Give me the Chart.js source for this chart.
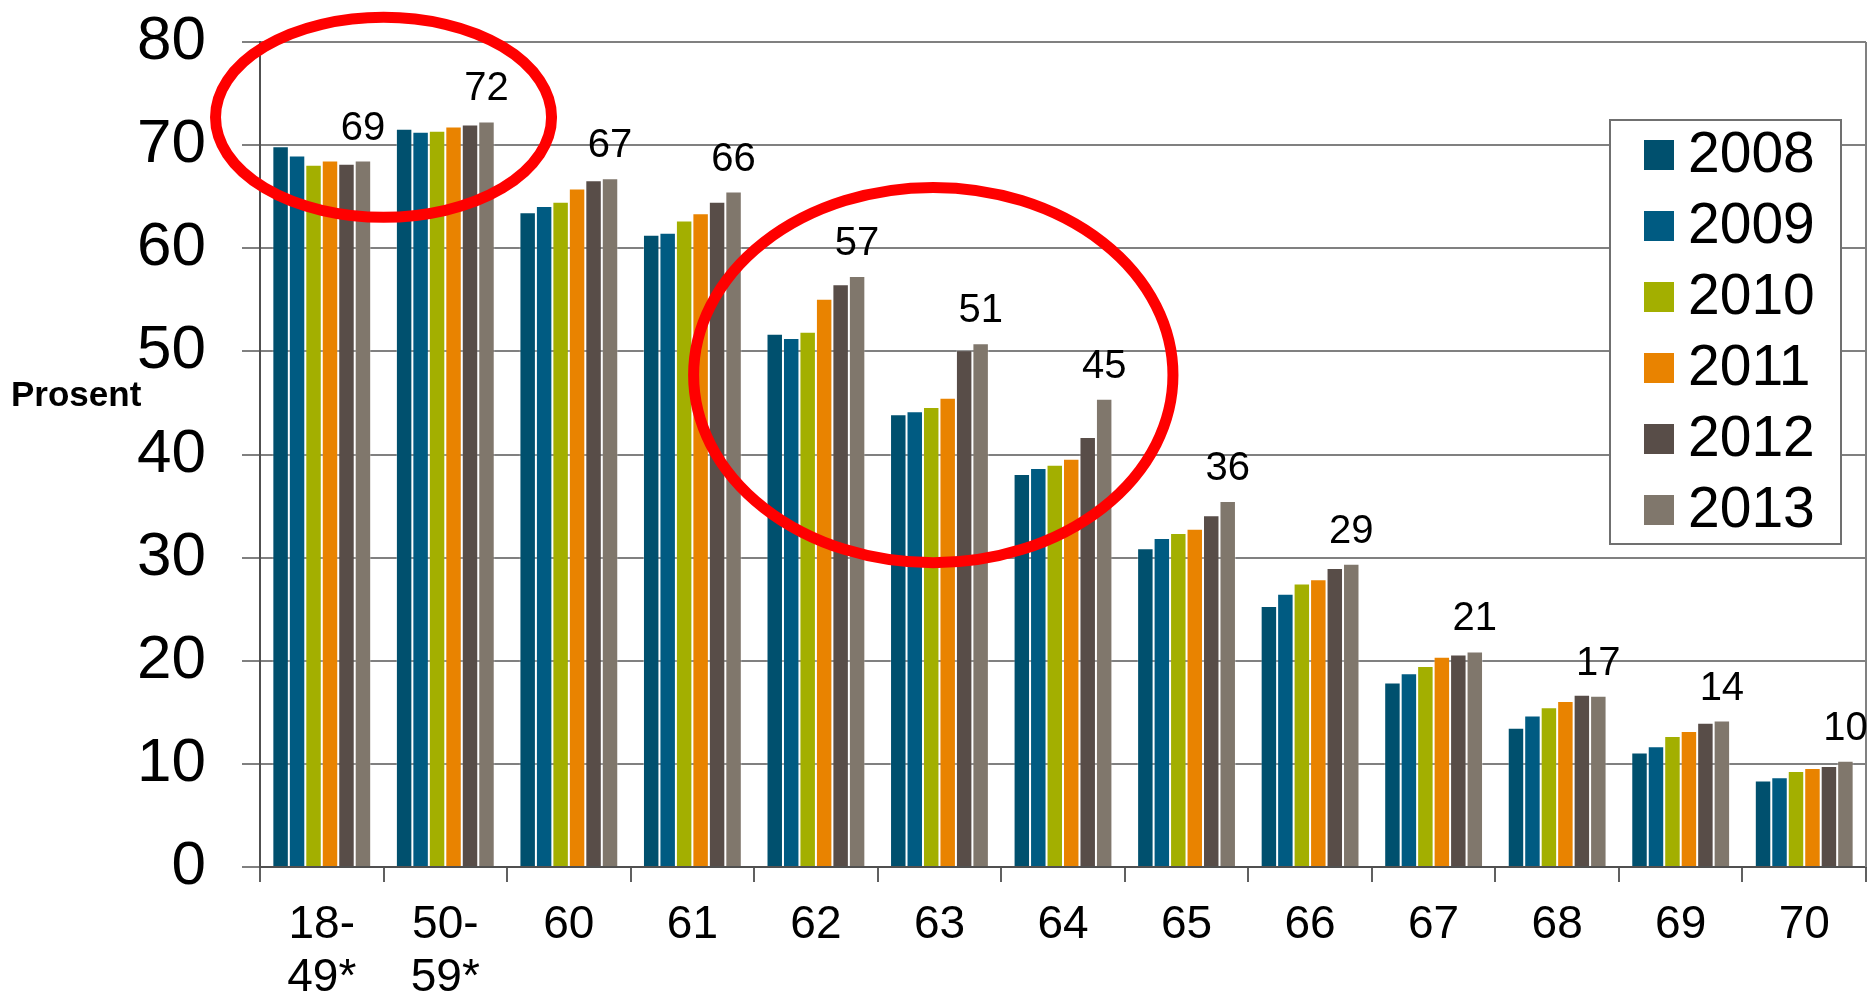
<!DOCTYPE html>
<html>
<head>
<meta charset="utf-8">
<script src="https://cdn.jsdelivr.net/npm/chart.js@4"></script>
<style>
  body { margin: 0; background: #fff; }
  #wrap { width: 1870px; height: 997px; }
</style>
</head>
<body>
<div id="wrap"><canvas id="myChart"></canvas></div>
<script>
const ages = [["18-", "49*"], ["50-", "59*"], "60", "61", "62", "63", "64", "65", "66", "67", "68", "69", "70"];
const years = ["2008", "2009", "2010", "2011", "2012", "2013"];

const s2008 = [69.9, 71.6, 63.5, 61.3, 51.7, 43.9, 38.1, 30.9, 25.3, 17.9, 13.5, 11.1, 8.4];
const s2009 = [69.0, 71.3, 64.1, 61.5, 51.3, 44.2, 38.7, 31.9, 26.5, 18.8, 14.7, 11.7, 8.7];
const s2010 = [68.1, 71.4, 64.5, 62.7, 51.9, 44.6, 39.0, 32.4, 27.5, 19.5, 15.5, 12.7, 9.3];
const s2011 = [68.5, 71.8, 65.8, 63.4, 55.1, 45.5, 39.6, 32.8, 27.9, 20.4, 16.1, 13.2, 9.6];
const s2012 = [68.2, 72.0, 66.6, 64.5, 56.5, 50.1, 41.7, 34.1, 29.0, 20.6, 16.7, 14.0, 9.8];
const s2013 = [68.5, 72.3, 66.8, 65.5, 57.3, 50.8, 45.4, 35.5, 29.4, 20.9, 16.6, 14.2, 10.3];

// printed above the 2013 bar of each group
const labels2013 = ["69", "72", "67", "66", "57", "51", "45", "36", "29", "21", "17", "14", "10"];

const colors = ["#00506e", "#005b82", "#a3af00", "#e98300", "#584d48", "#80776c"];

// red ellipses: centre (category index, value), radius (categories, value units)
const rings = [
  { cx: 0.5, cy: 72.7, rx: 1.36, ry: 9.7 },
  { cx: 4.95, cy: 47.7, rx: 1.94, ry: 18.2 },
];

const FONT = "'Liberation Sans', Arial, sans-serif";

const series = [s2008, s2009, s2010, s2011, s2012, s2013];

const extras = {
  id: "extras",
  afterDatasetsDraw(chart) {
    const { ctx, chartArea, scales } = chart;
    const x = scales.x, y = scales.y;

    ctx.save();
    // right edge of the plot frame
    ctx.strokeStyle = "#808080";
    ctx.lineWidth = 2;
    ctx.beginPath();
    ctx.moveTo(chartArea.right, chartArea.top);
    ctx.lineTo(chartArea.right, chartArea.bottom);
    ctx.stroke();

    // value labels on the 2013 bars
    const meta = chart.getDatasetMeta(5);
    ctx.fillStyle = "#000";
    ctx.font = "40px " + FONT;
    ctx.textAlign = "center";
    ctx.textBaseline = "alphabetic";
    meta.data.forEach((bar, i) => {
      ctx.fillText(labels2013[i], bar.x, bar.y - 21);
    });

    // red rings
    const catW = x.width / ages.length;
    const unit = y.getPixelForValue(0) - y.getPixelForValue(1);
    ctx.strokeStyle = "#ff0000";
    ctx.lineWidth = 11;
    rings.forEach(r => {
      ctx.beginPath();
      ctx.ellipse(x.getPixelForValue(r.cx), y.getPixelForValue(r.cy),
        r.rx * catW, r.ry * unit, 0, 0, Math.PI * 2);
      ctx.stroke();
    });

    // legend box
    const bw = 231, bh = 424;
    const bx = chartArea.right - 256, by = chartArea.top + 78;
    ctx.fillStyle = "#fff";
    ctx.fillRect(bx, by, bw, bh);
    ctx.strokeStyle = "#707070";
    ctx.lineWidth = 2;
    ctx.strokeRect(bx, by, bw, bh);
    ctx.font = "57px " + FONT;
    ctx.textAlign = "left";
    ctx.textBaseline = "middle";
    years.forEach((yr, i) => {
      const sy = by + 20 + i * 71;
      ctx.fillStyle = colors[i];
      ctx.fillRect(bx + 34, sy, 30, 30);
      ctx.fillStyle = "#000";
      ctx.fillText(yr, bx + 78, sy + 16);
    });

    // axis title, written flat
    ctx.font = "bold 35px " + FONT;
    ctx.fillText("Prosent", 11, y.getPixelForValue(45.6));
    ctx.restore();
  },
};

new Chart(document.getElementById("myChart"), {
  type: "bar",
  data: {
    labels: ages,
    datasets: years.map((yr, i) => ({
      label: yr,
      data: series[i],
      backgroundColor: colors[i],
      borderColor: "rgba(255,255,255,0.3)",
      borderWidth: 1,
      categoryPercentage: 0.8,
      barPercentage: 1.0,
    })),
  },
  options: {
    responsive: true,
    maintainAspectRatio: false,
    animation: false,
    layout: { padding: { top: 42, right: 4, left: 0, bottom: 0 } },
    plugins: {
      legend: { display: false },
      tooltip: { enabled: false },
    },
    scales: {
      y: {
        min: 0,
        max: 80,
        ticks: {
          stepSize: 10,
          color: "#000",
          padding: 36,
          font: { family: FONT, size: 62 },
        },
        grid: { color: "#808080", lineWidth: 2, tickLength: 18 },
        border: { color: "#505050", width: 2 },
        afterFit: s => {
          s.width = 260;
          s.paddingTop = 0;
          s.paddingBottom = 0;
        },
      },
      x: {
        ticks: {
          color: "#000",
          padding: 16,
          font: { family: FONT, size: 46, lineHeight: 1.17 },
          maxRotation: 0,
          autoSkip: false,
        },
        grid: { drawOnChartArea: false, color: "#606060", lineWidth: 2, tickLength: 15 },
        border: { color: "#505050", width: 2 },
        afterFit: s => { s.height = 130; },
      },
    },
  },
  plugins: [extras],
});
</script>
</body>
</html>
